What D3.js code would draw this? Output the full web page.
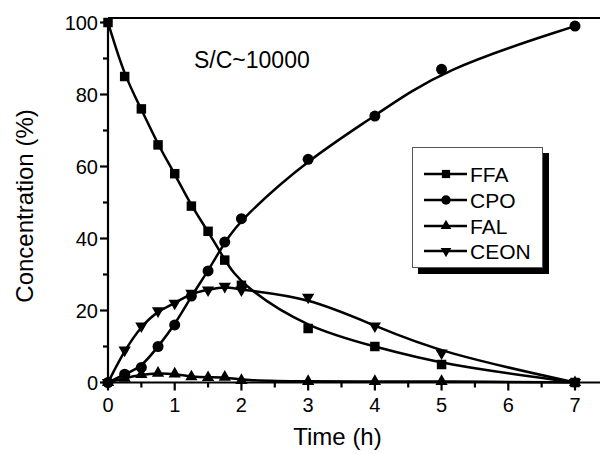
<!DOCTYPE html>
<html>
<head>
    <meta charset="utf-8" />
    <title>Concentration vs time</title>
    <style>
        body { margin: 0; background: #fff; }
        text { font-family: "Liberation Sans", Arial, Helvetica, sans-serif; fill: #000; }
    </style>
</head>
<body>
<script src="https://d3js.org/d3.v7.min.js"></script>
<script>
    var time = [0, 0.25, 0.5, 0.75, 1, 1.25, 1.5, 1.75, 2, 3, 4, 5, 7];
    var ffa  = [100, 85, 76, 66, 58, 49, 42, 34, 27, 15, 10, 5, 0];
    var cpo  = [0, 2.3, 4.2, 10, 16, 24, 31, 39, 45.5, 62, 74, 87, 99];
    var fal  = [0, 1.2, 2.2, 2.6, 2.4, 1.6, 1.4, 1.5, 0.6, 0.3, 0.3, 0.3, 0];
    var ceon = [0, 9, 15.7, 19.9, 22, 24.8, 25.7, 26.7, 25.7, 23.7, 15.7, 8.2, 0];

    var xTicks = [0, 1, 2, 3, 4, 5, 6, 7];
    var yTicks = [0, 20, 40, 60, 80, 100];
    var seriesNames = ["FFA", "CPO", "FAL", "CEON"];

    var width = 600, height = 454;
    var plotLeft = 108, plotBottom = 382.5, plotTop = 18;

    var svg = d3.select("body").append("svg")
        .attr("width", width)
        .attr("height", height);

    var x = d3.scaleLinear().domain([0, 7]).range([plotLeft, 575]);
    var y = d3.scaleLinear().domain([0, 100]).range([plotBottom, 22.5]);

    var axes = svg.append("g").attr("class", "frame");

    // top line (right side cut off), left and bottom axis lines
    axes.append("line")
        .attr("x1", plotLeft).attr("x2", width)
        .attr("y1", plotTop).attr("y2", plotTop);
    axes.append("line")
        .attr("x1", plotLeft).attr("x2", plotLeft)
        .attr("y1", plotTop).attr("y2", plotBottom + 1);
    axes.append("line")
        .attr("x1", plotLeft - 1).attr("x2", width)
        .attr("y1", plotBottom).attr("y2", plotBottom);

    // major + minor ticks
    var xMinor = d3.range(0.5, 7.5, 1);
    var yMinor = [10, 30, 50, 70, 90];
    axes.append("g").selectAll("line").data(xTicks).enter().append("line")
        .attr("x1", d => x(d)).attr("x2", d => x(d))
        .attr("y1", plotBottom).attr("y2", plotBottom + 8);
    axes.append("g").selectAll("line").data(xMinor).enter().append("line")
        .attr("x1", d => x(d)).attr("x2", d => x(d))
        .attr("y1", plotBottom).attr("y2", plotBottom + 5);
    axes.append("g").selectAll("line").data(yTicks).enter().append("line")
        .attr("x1", plotLeft).attr("x2", plotLeft - 8)
        .attr("y1", d => y(d)).attr("y2", d => y(d));
    axes.append("g").selectAll("line").data(yMinor).enter().append("line")
        .attr("x1", plotLeft).attr("x2", plotLeft - 5)
        .attr("y1", d => y(d)).attr("y2", d => y(d));

    axes.selectAll("line")
        .attr("stroke", "#000")
        .attr("stroke-width", 2.2);

    // tick labels
    svg.append("g").selectAll("text").data(xTicks).enter().append("text")
        .attr("x", d => x(d)).attr("y", plotBottom + 29)
        .attr("text-anchor", "middle")
        .style("font-size", "20px")
        .text(d => d);
    svg.append("g").selectAll("text").data(yTicks).enter().append("text")
        .attr("x", plotLeft - 10).attr("y", d => y(d) + 7)
        .attr("text-anchor", "end")
        .style("font-size", "20px")
        .text(d => d);

    // axis titles
    svg.append("text")
        .attr("x", x(3.5) - 4).attr("y", 445)
        .attr("text-anchor", "middle")
        .style("font-size", "24px")
        .text("Time (h)");

    svg.append("text")
        .attr("transform", "translate(33,206) rotate(-90)")
        .attr("text-anchor", "middle")
        .style("font-size", "24px")
        .text("Concentration (%)");

    svg.append("text")
        .attr("x", 194).attr("y", 68)
        .style("font-size", "23px")
        .text("S/C~10000");

    // series
    var series = [
        {name: "FFA", values: ffa, sym: d3.symbolSquare, size: 90, rot: 0},
        {name: "CPO", values: cpo, sym: d3.symbolCircle, size: 95, rot: 0},
        {name: "FAL", values: fal, sym: d3.symbolTriangle, size: 65, rot: 0},
        {name: "CEON", values: ceon, sym: d3.symbolTriangle, size: 65, rot: 180}
    ];

    var line = d3.line()
        .x(d => x(d[0]))
        .y(d => y(d[1]))
        .curve(d3.curveBasis);

    series.forEach(function(s) {
        var pts = time.map((t, i) => [t, s.values[i]]);
        svg.append("path")
            .datum(pts)
            .attr("d", line)
            .attr("fill", "none")
            .attr("stroke", "#000")
            .attr("stroke-width", 2.5);
        svg.append("g").selectAll("path").data(pts).enter().append("path")
            .attr("d", d3.symbol().type(s.sym).size(s.size))
            .attr("transform", d => "translate(" + x(d[0]) + "," + y(d[1]) + ") rotate(" + s.rot + ")")
            .attr("fill", "#000");
    });

    // legend
    var lg = svg.append("g");
    lg.append("rect")
        .attr("x", 418).attr("y", 153).attr("width", 131).attr("height", 121)
        .attr("fill", "#000");
    lg.append("rect")
        .attr("x", 412.5).attr("y", 147.5).attr("width", 130).attr("height", 120)
        .attr("fill", "#fff").attr("stroke", "#555").attr("stroke-width", 1);

    var rowY = [174, 200, 226, 251];
    series.forEach(function(s, i) {
        lg.append("line")
            .attr("x1", 424).attr("x2", 467)
            .attr("y1", rowY[i]).attr("y2", rowY[i])
            .attr("stroke", "#000").attr("stroke-width", 2.5);
        lg.append("path")
            .attr("d", d3.symbol().type(s.sym).size(s.size * 0.75))
            .attr("transform", "translate(446," + rowY[i] + ") rotate(" + s.rot + ")")
            .attr("fill", "#000");
        lg.append("text")
            .attr("x", 470).attr("y", rowY[i] + 7.5)
            .style("font-size", "21px")
            .text(seriesNames[i]);
    });
</script>
</body>
</html>
